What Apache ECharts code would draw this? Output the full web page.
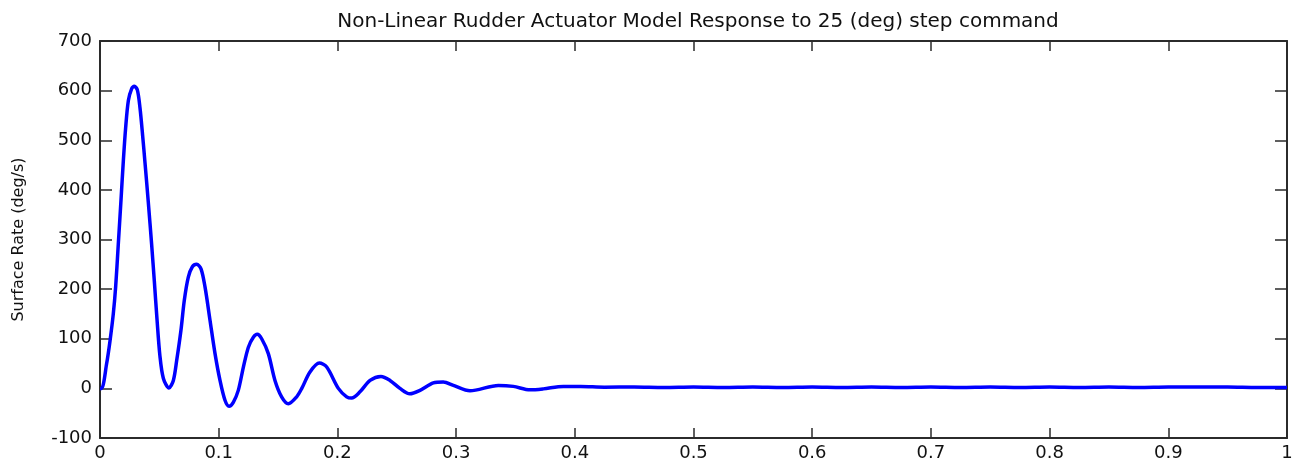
<!DOCTYPE html>
<html>
<head>
<meta charset="utf-8">
<title>Rudder Actuator Response</title>
<script src="https://cdn.jsdelivr.net/npm/echarts@6/dist/echarts.min.js"></script>
<style>
  html, body { margin: 0; padding: 0; background: #fff; }
  #chart { width: 1298px; height: 467px; }
</style>
</head>
<body>
<div id="chart"></div>
<script>
// time (s) and surface rate (deg/s)
const timeValues = [
  0, 0.0014, 0.0056, 0.0084, 0.0112, 0.0132, 0.0154, 0.0177, 0.0197, 0.0216,
  0.0239, 0.0267, 0.0289, 0.0315, 0.0337, 0.0359, 0.0379, 0.0407, 0.0435, 0.0458,
  0.048, 0.0505, 0.0534, 0.0581, 0.0618, 0.0646, 0.0682, 0.071, 0.0744, 0.0778,
  0.0814, 0.0851, 0.0885, 0.0927, 0.0969, 0.1011, 0.1053, 0.1087, 0.1123, 0.1165,
  0.1208, 0.125, 0.1292, 0.1325, 0.1362, 0.1418, 0.1474, 0.153, 0.1587, 0.1657,
  0.170, 0.1769, 0.1848, 0.191, 0.2008, 0.2078, 0.212, 0.219, 0.2275, 0.2367,
  0.2443, 0.2527, 0.261, 0.2696, 0.2808, 0.2892, 0.2977, 0.3117, 0.3356, 0.3482,
  0.3623, 0.3735, 0.3904, 0.405, 0.425, 0.45, 0.475, 0.5, 0.525, 0.55,
  0.575, 0.6, 0.625, 0.65, 0.675, 0.7, 0.725, 0.75, 0.775, 0.8,
  0.825, 0.85, 0.875, 0.9, 0.925, 0.95, 0.975, 1
];
const rateValues = [
  0, 0, 50, 95, 150, 205, 290, 380, 460, 525,
  580, 604, 609, 601, 565, 510, 455, 375, 290, 215,
  140, 65, 20, 1, 16, 56, 117, 177, 224, 245,
  250, 241, 204, 137, 70, 16, -24, -36, -28, -4,
  43, 83, 103, 109, 100, 70, 16, -17, -31, -17,
  0, 33, 51, 43, 0, -17, -19.5, -7, 16, 24,
  16, 0, -11, -4, 11, 13, 6, -5, 6, 4,
  -3, -1, 4, 4, 2.5, 3, 2, 3, 2, 3,
  2, 3, 2, 3, 2, 3, 2, 3, 2, 3,
  2, 3, 2, 3, 3, 3, 2, 2
];
const xTicks = { min: 0, max: 1, step: 0.1 };
const yTicks = { min: -100, max: 700, step: 100 };

const chart = echarts.init(document.getElementById("chart"));
const font = "DejaVu Sans, Liberation Sans, sans-serif";
const axisLine = { show: true, onZero: false, lineStyle: { color: "#2b2b2b", width: 2 } };
const xTick = { show: true, inside: true, length: 10, lineStyle: { color: "#2b2b2b", width: 1.5 } };
const yTick = { show: true, inside: true, length: 12, lineStyle: { color: "#2b2b2b", width: 1.5 } };

chart.setOption({
  animation: false,
  title: {
    text: "Non-Linear Rudder Actuator Model Response to 25 (deg) step command",
    left: 693,
    textAlign: "center",
    top: 7,
    textStyle: { fontFamily: font, fontSize: 20, fontWeight: "normal", color: "#111" }
  },
  grid: { left: 100, right: 11, top: 41, bottom: 29 },
  xAxis: [
    {
      type: "value",
      min: xTicks.min,
      max: xTicks.max,
      interval: xTicks.step,
      axisLine: axisLine,
      axisTick: xTick,
      splitLine: { show: false },
      axisLabel: {
        fontFamily: font, fontSize: 18, color: "#111", margin: 6,
        showMinLabel: true, showMaxLabel: true
      }
    },
    {
      type: "value",
      position: "top",
      min: xTicks.min,
      max: xTicks.max,
      interval: xTicks.step,
      axisLine: axisLine,
      axisTick: xTick,
      splitLine: { show: false },
      axisLabel: { show: false }
    }
  ],
  yAxis: [
    {
      type: "value",
      min: yTicks.min,
      max: yTicks.max,
      interval: yTicks.step,
      name: "Surface Rate (deg/s)",
      nameLocation: "middle",
      nameGap: 73,
      nameTextStyle: { fontFamily: font, fontSize: 16, color: "#111" },
      axisLine: axisLine,
      axisTick: yTick,
      splitLine: { show: false },
      axisLabel: { fontFamily: font, fontSize: 18, color: "#111", margin: 8 }
    },
    {
      type: "value",
      position: "right",
      min: yTicks.min,
      max: yTicks.max,
      interval: yTicks.step,
      axisLine: axisLine,
      axisTick: yTick,
      splitLine: { show: false },
      axisLabel: { show: false }
    }
  ],
  series: [
    {
      type: "line",
      xAxisIndex: 0,
      yAxisIndex: 0,
      data: timeValues.map((t, i) => [t, rateValues[i]]),
      showSymbol: false,
      smooth: 0.3,
      lineStyle: { color: "#0000ff", width: 3.5 }
    }
  ]
});
</script>
</body>
</html>
